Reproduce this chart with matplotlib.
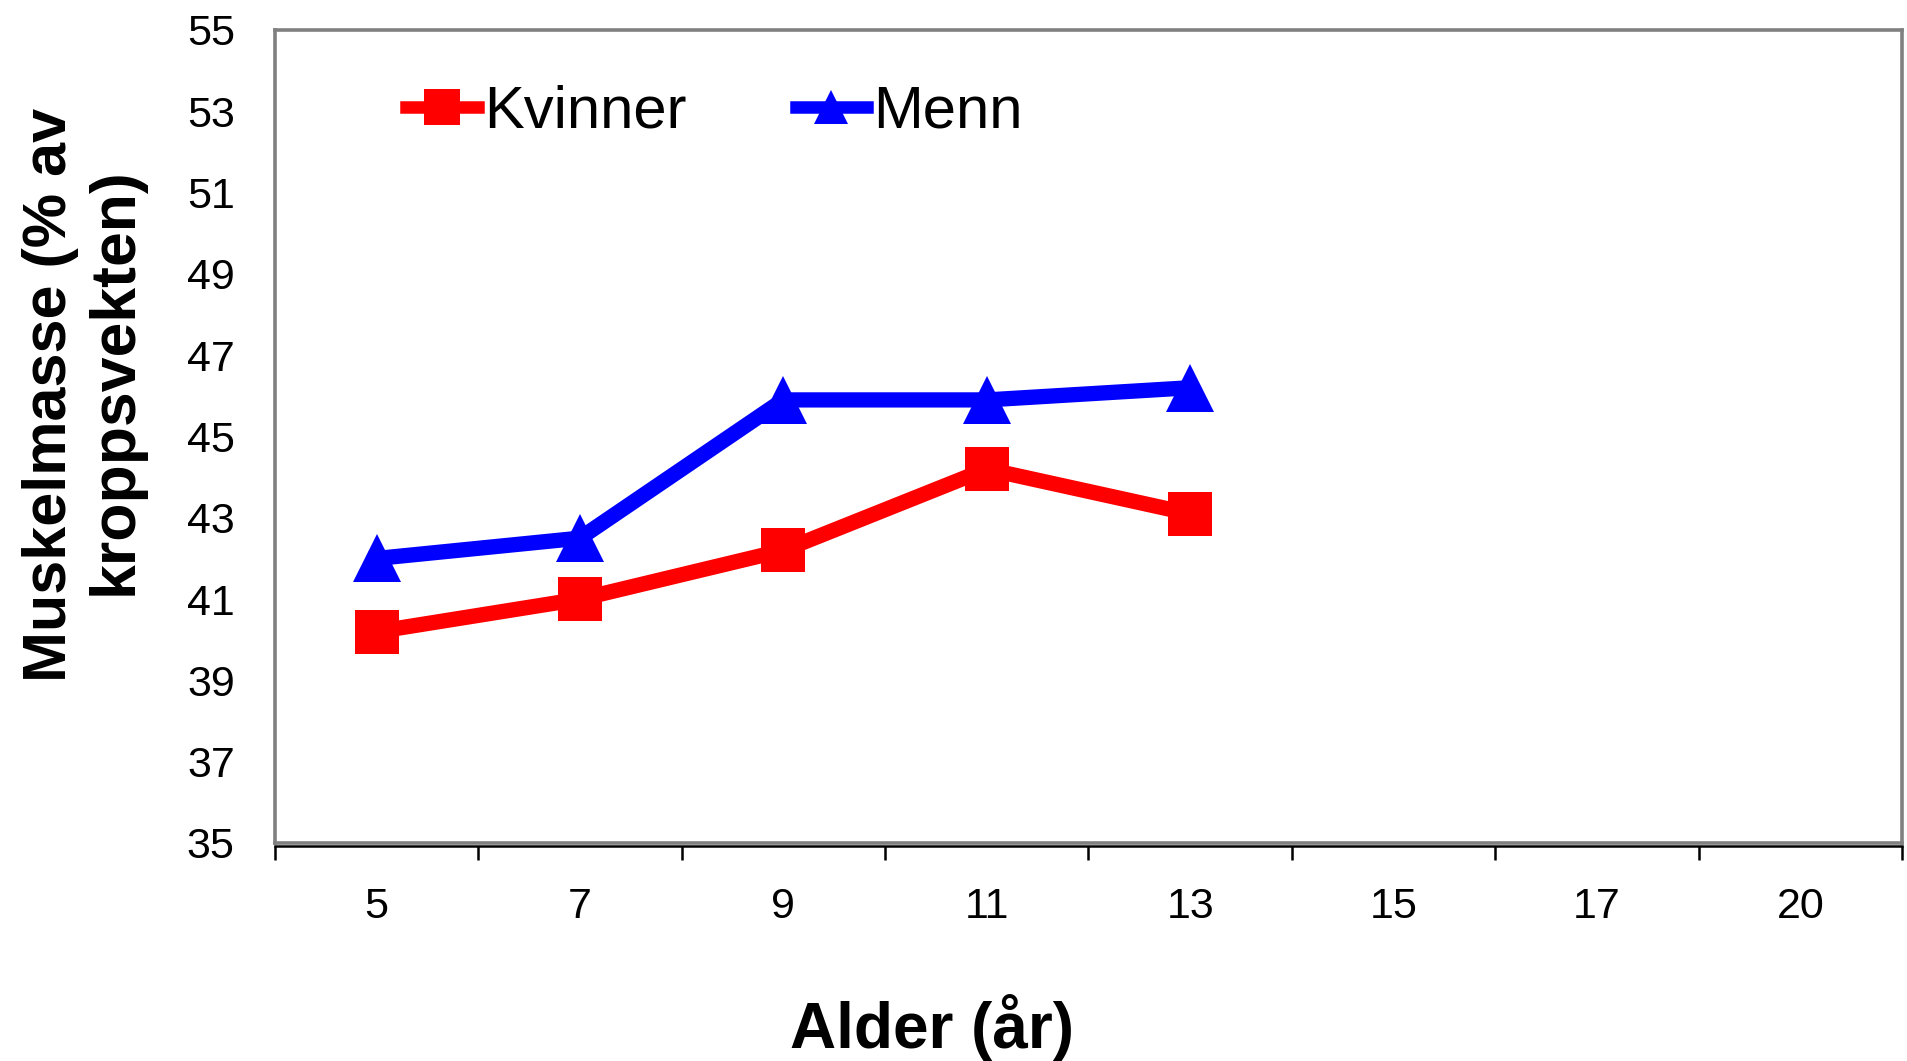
import numpy as np
import matplotlib.pyplot as plt

plt.rcParams['font.family'] = ['Liberation Sans', 'DejaVu Sans']

# data
ages = ['5', '7', '9', '11', '13', '15', '17', '20']
kvinner = [40.2, 41.0, 42.2, 44.2, 43.1]
menn = [42.0, 42.5, 45.9, 45.9, 46.2]
y_ticks = list(range(35, 56, 2))

fig = plt.figure(figsize=(19.08, 10.61), dpi=100)
ax = fig.add_axes([275 / 1908, 1 - 843 / 1061, 1627 / 1908, 813 / 1061])

xk = np.arange(len(kvinner)) + 0.5
xm = np.arange(len(menn)) + 0.5
ax.plot(xk, kvinner, color='#ff0000', lw=11, marker='s', ms=32,
        mew=0, label='Kvinner', zorder=3)
ax.plot(xm, menn, color='#0000ff', lw=11, marker='^', ms=35,
        mew=0, label='Menn', zorder=3)

ax.set_xlim(0, len(ages))
ax.set_ylim(35, 55)
ax.set_yticks(y_ticks)
ax.tick_params(axis='y', length=0, pad=29, labelsize=31)

# ticks on category boundaries, labels at centres
ax.set_xticks(np.arange(len(ages) + 1))
ax.set_xticklabels([])
ax.set_xticks(np.arange(len(ages)) + 0.5, minor=True)
ax.set_xticklabels(ages, minor=True)
ax.tick_params(axis='x', which='major', length=10, width=1.8, direction='out')
ax.tick_params(axis='x', which='minor', length=0, pad=29, labelsize=31)

for s in ['left', 'right', 'top']:
    ax.spines[s].set_color('#808080')
    ax.spines[s].set_linewidth(2.6)
ax.spines['bottom'].set_color('black')
ax.spines['bottom'].set_linewidth(1.8)
ax.spines['bottom'].set_position(('outward', 2.5))
ax.axhline(35, color='#808080', lw=2.6, clip_on=False, zorder=2)

leg = ax.legend(loc='center left', bbox_to_anchor=(0.0806, 0.899), ncol=2,
                frameon=False, fontsize=43, handlelength=1.2,
                handletextpad=0.1, columnspacing=1.83, borderpad=0,
                borderaxespad=0)
h = leg.legend_handles
h[0].set_markersize(26)
h[0].set_linewidth(9)
h[1].set_markersize(25)
h[1].set_linewidth(9)

# y label: two lines, placed as in the original
fig.text(51 / 1908, 1 - 395 / 1061, 'Muskelmasse (% av', rotation=90,
         ha='center', va='center', fontsize=44, fontweight='bold')
fig.text(115 / 1908, 1 - 381 / 1061, 'kroppsvekten)', rotation=90,
         ha='center', va='center', fontsize=45, fontweight='bold')
fig.text(932 / 1908, 1 - 1048 / 1061, 'Alder (år)', ha='center',
         va='baseline', fontsize=46, fontweight='bold')

fig.savefig('out.png', dpi=100)
